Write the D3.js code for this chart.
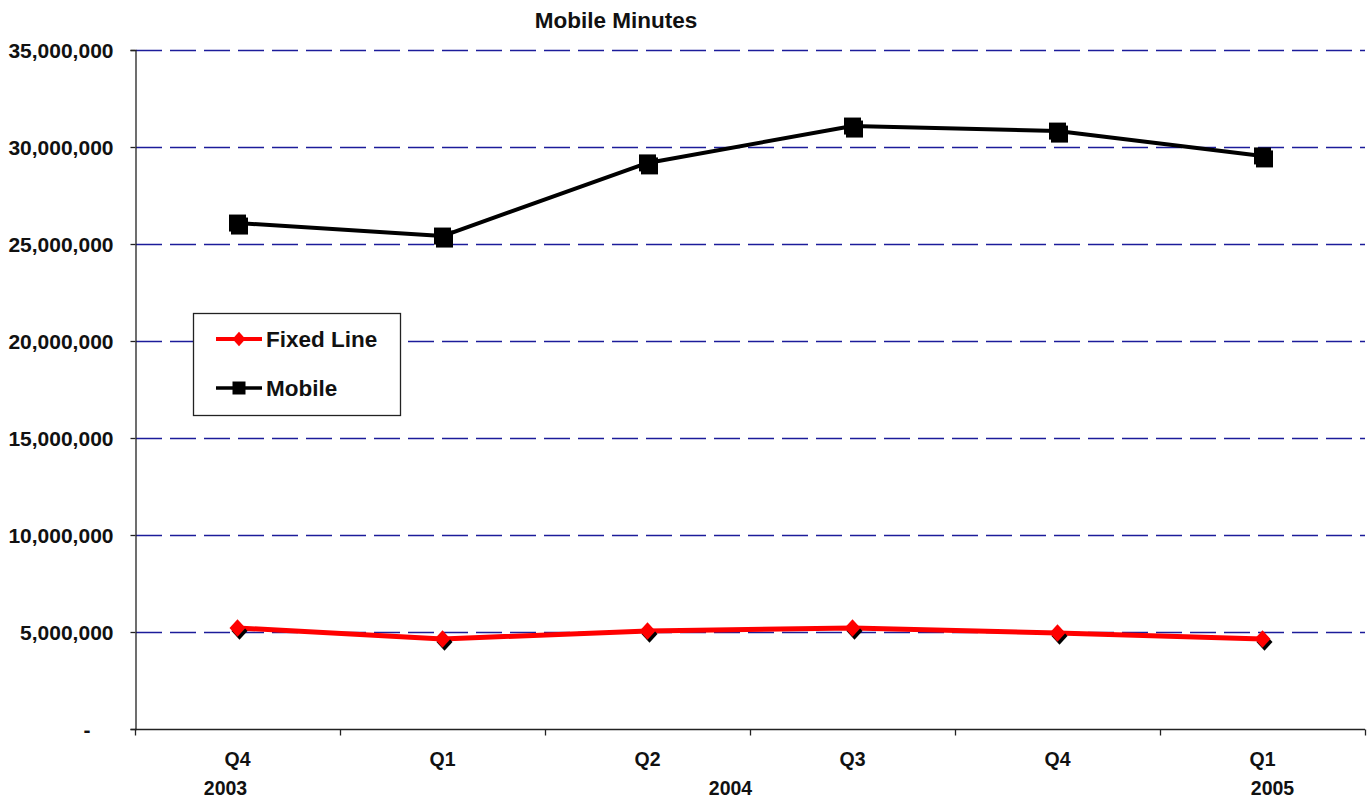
<!DOCTYPE html>
<html>
<head>
<meta charset="utf-8">
<script src="https://cdn.jsdelivr.net/npm/d3@7"></script>
<style>
  html, body { margin: 0; padding: 0; background: #fff; }
  svg { display: block; font-family: "Liberation Sans", Arial, sans-serif; font-weight: bold; }
</style>
</head>
<body>
<svg id="chart" width="1371" height="800"></svg>
<script>
// Quarterly minutes by network type
const quarters = ["Q4", "Q1", "Q2", "Q3", "Q4", "Q1"];
const quarterKeys = ["2003Q4", "2004Q1", "2004Q2", "2004Q3", "2004Q4", "2005Q1"];
const fixedLine = [5210000, 4640000, 5050000, 5210000, 4950000, 4640000];
const mobile = [26080000, 25410000, 29180000, 31080000, 30820000, 29540000];
const yTicks = [0, 5000000, 10000000, 15000000, 20000000, 25000000, 30000000, 35000000];
const yearLabels = [
  { year: "2003", key: "2003Q4", dx: -12 },
  { year: "2004", key: "2004Q3", dx: -122 },
  { year: "2005", key: "2005Q1", dx: 10 }
];

const svg = d3.select("#chart");
const plotLeft = 135, plotRight = 1365, plotTop = 50, plotBottom = 729;

const x = d3.scaleBand().domain(quarterKeys).range([plotLeft, plotRight]);
const y = d3.scaleLinear().domain([0, 35000000]).range([plotBottom, plotTop]);
const cx = k => x(k) + x.bandwidth() / 2;

// Title
svg.append("text")
  .attr("x", 616).attr("y", 28)
  .attr("text-anchor", "middle")
  .attr("font-size", 22.5)
  .attr("fill", "#111")
  .text("Mobile Minutes");

// Horizontal dashed gridlines
svg.append("g").selectAll("line")
  .data(yTicks.filter(d => d > 0))
  .join("line")
  .attr("x1", plotLeft + 1).attr("x2", plotRight)
  .attr("y1", d => Math.round(y(d)) + 0.5).attr("y2", d => Math.round(y(d)) + 0.5)
  .attr("stroke", "#1c1c9a")
  .attr("stroke-width", 1.6)
  .attr("stroke-dasharray", "26,8");

// Y axis
const yAxis = d3.axisLeft(y)
  .tickValues(yTicks)
  .tickSize(5)
  .tickPadding(17)
  .tickFormat(d => d === 0 ? "-" : d3.format(",")(d));
const gy = svg.append("g").attr("transform", `translate(${plotLeft + 0.5},0)`).call(yAxis);
gy.select(".domain").attr("stroke", "#222").attr("stroke-width", 1.3);
gy.selectAll(".tick line").attr("stroke", "#222").attr("stroke-width", 1.3);
gy.selectAll(".tick text")
  .attr("font-size", 21)
  .attr("fill", "#111")
  .attr("font-family", "'Liberation Sans', Arial, sans-serif")
  .attr("font-weight", "bold")
  .attr("dx", d => d === 0 ? -23 : 0)
  .attr("dy", "0.35em");

// X axis with ticks between categories
const gx = svg.append("g").attr("transform", `translate(0,${plotBottom + 0.5})`);
gx.append("line").attr("x1", plotLeft).attr("x2", plotRight)
  .attr("stroke", "#222").attr("stroke-width", 1.3);
const boundaries = quarterKeys.map(k => x(k)).concat([plotRight]);
gx.selectAll(".bt").data(boundaries).join("line")
  .attr("class", "bt")
  .attr("x1", d => Math.round(d) + 0.5).attr("x2", d => Math.round(d) + 0.5)
  .attr("y1", 0).attr("y2", 6)
  .attr("stroke", "#222").attr("stroke-width", 1.3);
gx.selectAll(".ql").data(quarterKeys).join("text")
  .attr("class", "ql")
  .attr("x", d => cx(d)).attr("y", 36.5)
  .attr("text-anchor", "middle")
  .attr("font-size", 19.5).attr("fill", "#111")
  .text((d, i) => quarters[i]);
gx.selectAll(".yl").data(yearLabels).join("text")
  .attr("class", "yl")
  .attr("x", d => cx(d.key) + d.dx).attr("y", 65.5)
  .attr("text-anchor", "middle")
  .attr("font-size", 19.5).attr("fill", "#111")
  .text(d => d.year);

// Series
const line = d3.line().x(d => cx(d.k)).y(d => y(d.v));
const toPts = arr => arr.map((v, i) => ({ k: quarterKeys[i], v }));

const diamond = s => `M0,${-s * 1.1}L${s},0L0,${s * 1.1}L${-s},0Z`;
const square = s => `M${-s},${-s}H${s}V${s}H${-s}Z`;

function drawSeries(values, color, width, shape, size) {
  const pts = toPts(values);
  svg.append("path").datum(pts)
    .attr("d", line)
    .attr("fill", "none")
    .attr("stroke", color)
    .attr("stroke-width", width)
    .attr("stroke-linejoin", "round");
  const g = svg.append("g");
  // drop shadow
  g.selectAll(".sh").data(pts).join("path")
    .attr("class", "sh")
    .attr("transform", d => `translate(${cx(d.k) + 2},${y(d.v) + 3})`)
    .attr("d", shape(size))
    .attr("fill", "#000");
  g.selectAll(".mk").data(pts).join("path")
    .attr("class", "mk")
    .attr("transform", d => `translate(${cx(d.k)},${y(d.v)})`)
    .attr("d", shape(size))
    .attr("fill", color);
}
drawSeries(mobile, "#000", 4, square, 8.5);
drawSeries(fixedLine, "#ff0000", 5, diamond, 8);

// Legend
const lg = svg.append("g");
lg.append("rect")
  .attr("x", 193.5).attr("y", 313.5).attr("width", 207).attr("height", 102)
  .attr("fill", "#fff").attr("stroke", "#222").attr("stroke-width", 1.3);
const legendItems = [
  { name: "Fixed Line", color: "#ff0000", shape: diamond, size: 6.5, w: 4, yy: 339 },
  { name: "Mobile", color: "#000", shape: square, size: 6.5, w: 3.5, yy: 388 }
];
legendItems.forEach(it => {
  lg.append("line").attr("x1", 216).attr("x2", 262)
    .attr("y1", it.yy).attr("y2", it.yy)
    .attr("stroke", it.color).attr("stroke-width", it.w);
  lg.append("path").attr("transform", `translate(239,${it.yy})`)
    .attr("d", it.shape(it.size)).attr("fill", it.color);
  lg.append("text").attr("x", 266).attr("y", it.yy + 8)
    .attr("font-size", 22.5).attr("fill", "#111")
    .text(it.name);
});
</script>
</body>
</html>
